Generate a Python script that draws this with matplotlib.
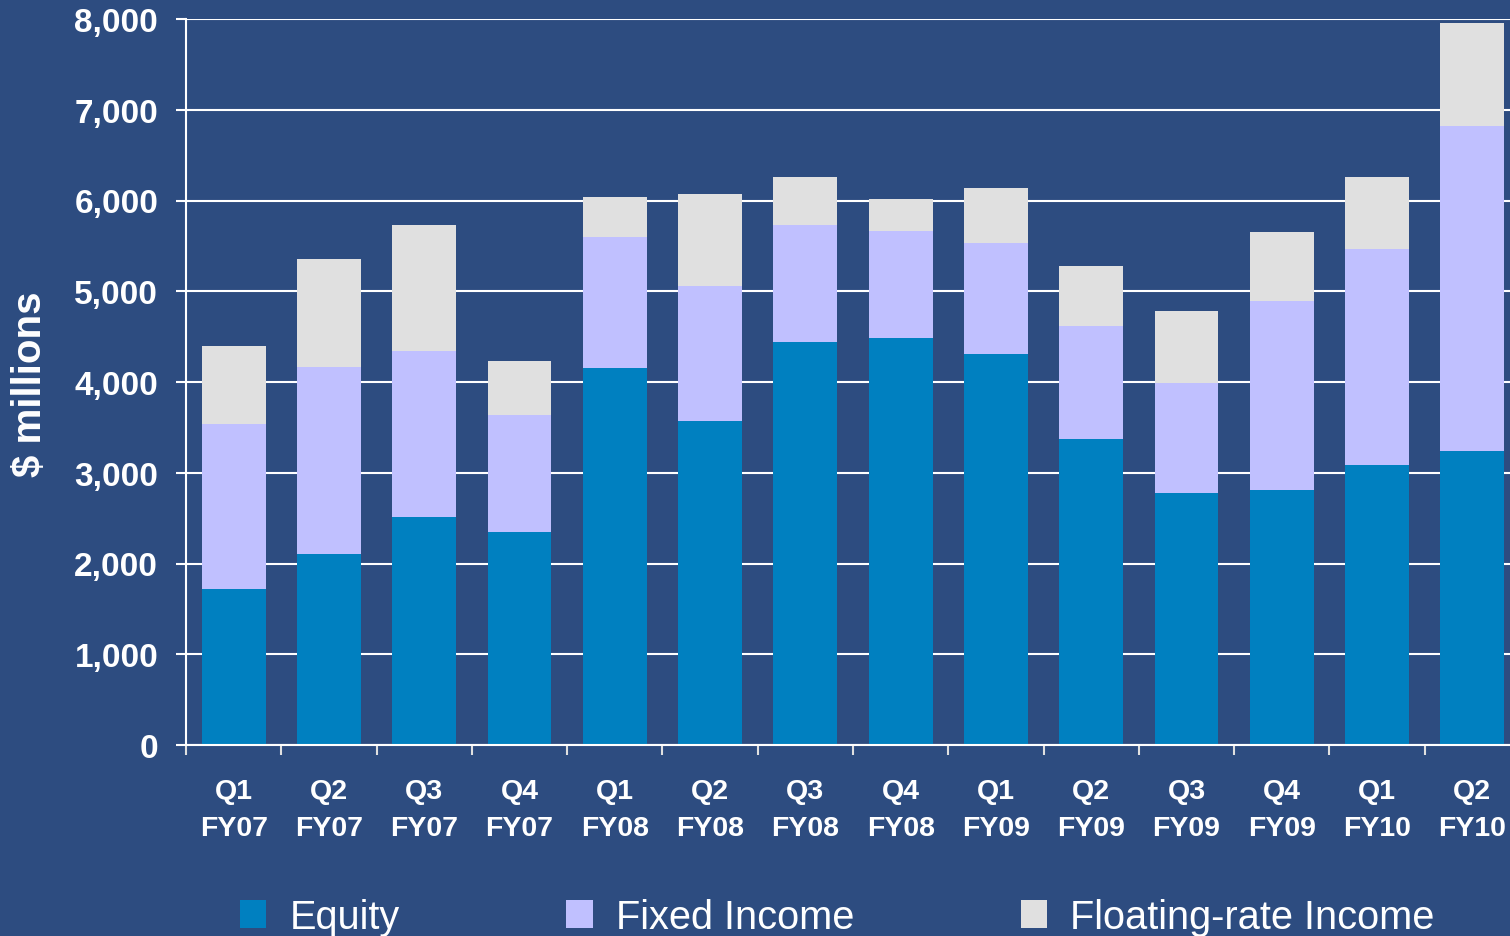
import matplotlib.pyplot as plt
from matplotlib.patches import Patch
import numpy as np

plt.rcParams["font.family"] = ["Liberation Sans", "DejaVu Sans"]

quarters = ["Q1\nFY07", "Q2\nFY07", "Q3\nFY07", "Q4\nFY07",
            "Q1\nFY08", "Q2\nFY08", "Q3\nFY08", "Q4\nFY08",
            "Q1\nFY09", "Q2\nFY09", "Q3\nFY09", "Q4\nFY09",
            "Q1\nFY10", "Q2\nFY10"]
equity = [1720, 2105, 2510, 2345, 4155, 3570, 4440, 4485, 4310, 3370, 2775, 2810, 3085, 3240]
fixed_income = [1815, 2060, 1830, 1290, 1445, 1490, 1290, 1180, 1220, 1245, 1215, 2085, 2380, 3580]
floating_rate = [860, 1190, 1390, 595, 440, 1015, 530, 355, 605, 660, 795, 760, 795, 1135]
series_names = ["Equity", "Fixed Income", "Floating-rate Income"]
colors = ["#0080C0", "#C0C0FF", "#E0E0E0"]
bg = "#2D4C80"

fig = plt.figure(figsize=(15.1, 9.37), dpi=100, facecolor=bg)
ax = fig.add_axes([186 / 1510, 1 - 746 / 937, 1334 / 1510, 726 / 937])
ax.set_facecolor(bg)

x = np.arange(len(quarters))
bottom = np.zeros(len(quarters))
for vals, c in zip([equity, fixed_income, floating_rate], colors):
    ax.bar(x, vals, width=0.67, bottom=bottom, color=c, zorder=3)
    bottom += np.array(vals)

ax.set_xlim(-0.5, len(quarters) - 0.5)
ax.set_ylim(0, 8000)
ax.set_yticks(range(0, 8001, 1000))
ax.set_yticklabels([f"{v:,}" for v in range(0, 8001, 1000)])
ax.yaxis.grid(True, color="white", linewidth=1.5, zorder=0)

# ticks at category edges, labels at centers
ax.set_xticks(np.arange(-0.5, len(quarters) + 0.5, 1))
ax.set_xticklabels([])
ax.set_xticks(x, minor=True)
ax.set_xticklabels(quarters, minor=True, fontsize=20.5, fontweight="bold",
                   color="white", linespacing=1.55)
ax.tick_params(axis="x", which="major", length=7, width=1.5, color="#E0E0E0", direction="out")
ax.tick_params(axis="x", which="minor", length=0, pad=24)
ax.tick_params(axis="y", length=7, width=1.5, color="white", pad=13,
               labelsize=24, labelcolor="white")
for lbl in ax.get_yticklabels():
    lbl.set_fontweight("bold")

for side in ["top", "right"]:
    ax.spines[side].set_visible(False)
for side in ["left", "bottom"]:
    ax.spines[side].set_color("white")
    ax.spines[side].set_linewidth(1.5)
    ax.spines[side].set_zorder(4)

fig.text(30 / 1510, 1 - 384 / 937, "$ millions", rotation=90, ha="center", va="center",
         fontsize=29, fontweight="bold", color="white")

handles = [Patch(facecolor=c, edgecolor="none") for c in colors]
fig.legend(handles, series_names, loc="center left", bbox_to_anchor=(240 / 1510, 1 - 918 / 937),
           ncol=3, frameon=False, fontsize=28.6, labelcolor="white",
           handlelength=0.66, handleheight=0.68, handletextpad=0.58,
           columnspacing=4.2, borderpad=0, borderaxespad=0)

fig.savefig("out.png", dpi=100, facecolor=bg)
